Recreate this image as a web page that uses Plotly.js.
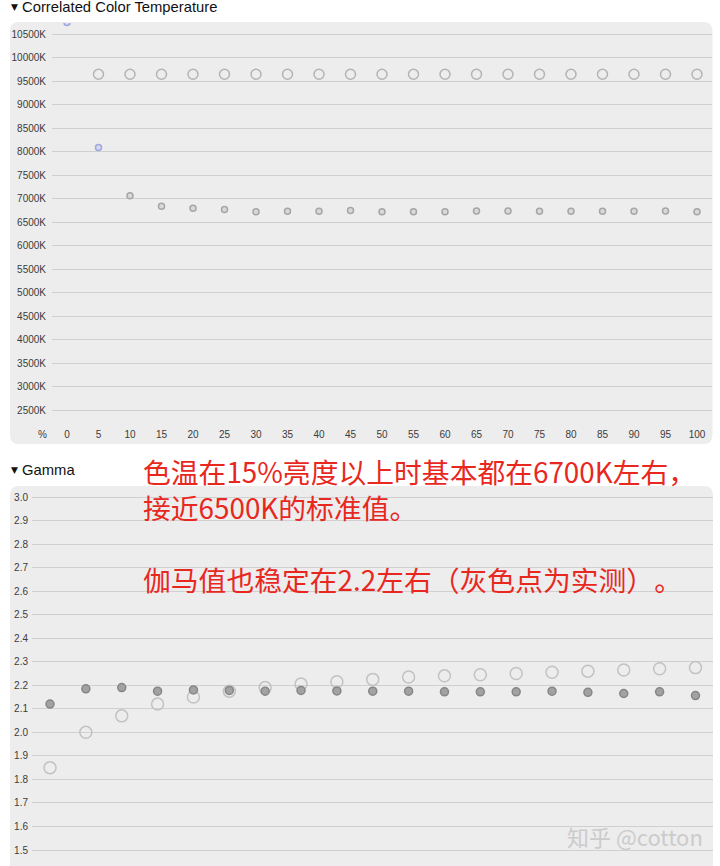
<!DOCTYPE html>
<html>
<head>
<meta charset="utf-8">
<script src="https://cdn.plot.ly/plotly-3.0.1.min.js"></script>
<style>
html,body{margin:0;padding:0;background:#fff;}
#chart{width:720px;height:866px;}
svg text{text-spacing-trim: space-all;}
</style>
</head>
<body>
<div id="chart"></div>
<script>
// ---- data ----
var cctLevels = [0,5,10,15,20,25,30,35,40,45,50,55,60,65,70,75,80,85,90,95,100];
var cctMeasured = [10750,8090,7060,6840,6795,6770,6720,6730,6730,6750,6720,6720,6720,6735,6735,6730,6730,6730,6730,6735,6720];
var cctTargetLevels = [5,10,15,20,25,30,35,40,45,50,55,60,65,70,75,80,85,90,95,100];
var cctTarget = [9650,9650,9650,9650,9650,9650,9650,9650,9650,9650,9650,9650,9650,9650,9650,9650,9650,9650,9650,9650];
var cctTickVals = [2500,3000,3500,4000,4500,5000,5500,6000,6500,7000,7500,8000,8500,9000,9500,10000,10500];
var cctTickText = ["2500K","3000K","3500K","4000K","4500K","5000K","5500K","6000K","6500K","7000K","7500K","8000K","8500K","9000K","9500K","10000K","10500K"];
var levelTicks = [0,5,10,15,20,25,30,35,40,45,50,55,60,65,70,75,80,85,90,95,100];

var gammaLevels = [10,15,20,25,30,35,40,45,50,55,60,65,70,75,80,85,90,95,100];
var gammaTarget = [1.85,2.00,2.07,2.12,2.15,2.175,2.19,2.205,2.215,2.225,2.235,2.24,2.245,2.25,2.255,2.26,2.265,2.27,2.275];
var gammaMeasured = [2.12,2.185,2.19,2.175,2.18,2.178,2.175,2.178,2.176,2.175,2.175,2.172,2.172,2.172,2.175,2.17,2.165,2.172,2.156];
var gammaTickVals = [1.5,1.6,1.7,1.8,1.9,2.0,2.1,2.2,2.3,2.4,2.5,2.6,2.7,2.8,2.9,3.0];
var gammaTickText = ["1.5","1.6","1.7","1.8","1.9","2.0","2.1","2.2","2.3","2.4","2.5","2.6","2.7","2.8","2.9","3.0"];

var noteLines = ["色温在15%亮度以上时基本都在6700K左右，", "接近6500K的标准值。", "", "伽马值也稳定在2.2左右（灰色点为实测）。"];

// ---- layout helpers (pixel -> paper) ----
var W = 720, H = 866;
function px(x){ return x / W; }
function py(y){ return 1 - y / H; }
function roundRect(x0, y0, x1, y1, r){
  var rx = r / W, ry = r / H;
  var L = px(x0), R = px(x1), T = py(y0), B = py(y1);
  return 'M' + (L+rx) + ',' + T + ' L' + (R-rx) + ',' + T +
    ' Q' + R + ',' + T + ' ' + R + ',' + (T-ry) +
    ' L' + R + ',' + (B+ry) + ' Q' + R + ',' + B + ' ' + (R-rx) + ',' + B +
    ' L' + (L+rx) + ',' + B + ' Q' + L + ',' + B + ' ' + L + ',' + (B+ry) +
    ' L' + L + ',' + (T-ry) + ' Q' + L + ',' + T + ' ' + (L+rx) + ',' + T + ' Z';
}

var cctFill = cctLevels.map(function(v, i){ return i < 2 ? '#d6daf3' : '#d9d9d9'; });
var cctLine = cctLevels.map(function(v, i){ return i < 2 ? '#9ea6de' : '#a6a6a6'; });

var traces = [
  {x: cctTargetLevels, y: cctTarget, xaxis: 'x', yaxis: 'y', type: 'scatter', mode: 'markers',
   marker: {size: 10, color: 'rgba(0,0,0,0)', line: {color: '#b4b4b4', width: 1.5}}},
  {x: cctLevels, y: cctMeasured, xaxis: 'x', yaxis: 'y', type: 'scatter', mode: 'markers',
   marker: {size: 6, color: cctFill, line: {color: cctLine, width: 1.5}}},
  {x: gammaLevels, y: gammaTarget, xaxis: 'x2', yaxis: 'y2', type: 'scatter', mode: 'markers',
   marker: {size: 12, color: 'rgba(0,0,0,0)', line: {color: '#c2c2c2', width: 1.5}}},
  {x: gammaLevels, y: gammaMeasured, xaxis: 'x2', yaxis: 'y2', type: 'scatter', mode: 'markers',
   marker: {size: 8, color: '#a2a2a2', line: {color: '#868686', width: 1.5}}}
];

var tickFont = {family: 'Liberation Sans, Arial, sans-serif', size: 10, color: '#3c3c3c'};
var noteFont = {family: 'Noto Sans CJK SC, sans-serif', size: 27.8, color: '#e8281e'};

var layout = {
  width: W, height: H,
  margin: {l: 0, r: 0, t: 0, b: 0},
  paper_bgcolor: '#ffffff',
  plot_bgcolor: 'rgba(0,0,0,0)',
  showlegend: false,
  hovermode: false,
  xaxis: {
    domain: [px(52), px(712)], anchor: 'y',
    range: [(52-67)/6.3, (712-67)/6.3],
    tickmode: 'array', tickvals: levelTicks, ticktext: levelTicks.map(String),
    showgrid: false, zeroline: false, showline: false, ticks: '',
    ticklabelstandoff: 4,
    tickfont: tickFont, fixedrange: true
  },
  yaxis: {
    domain: [py(423), py(23)], anchor: 'x',
    range: [2500 - (423-410)/23.48*500, 10500 + (34.3-23)/23.48*500],
    tickmode: 'array', tickvals: cctTickVals, ticktext: cctTickText,
    showgrid: true, gridcolor: '#d0d0d0', gridwidth: 1,
    zeroline: false, showline: false, ticks: '',
    ticklabelstandoff: 5,
    tickfont: tickFont, fixedrange: true
  },
  xaxis2: {
    domain: [px(32), px(713)], anchor: 'y2',
    range: [10 + (32-50)/7.172, 10 + (713-50)/7.172],
    showticklabels: false, showgrid: false, zeroline: false, showline: false, ticks: '',
    fixedrange: true
  },
  yaxis2: {
    domain: [0, py(487)], anchor: 'x2',
    range: [1.5 - (866-850)/235.4, 3.0 + (497-487)/235.4],
    tickmode: 'array', tickvals: gammaTickVals, ticktext: gammaTickText,
    showgrid: true, gridcolor: '#d0d0d0', gridwidth: 1,
    zeroline: false, showline: false, ticks: '',
    ticklabelstandoff: 3,
    tickfont: tickFont, fixedrange: true
  },
  shapes: [
    {type: 'path', xref: 'paper', yref: 'paper', path: roundRect(10, 22, 712.5, 444, 9),
     fillcolor: '#ededed', line: {width: 0}, layer: 'below'},
    {type: 'path', xref: 'paper', yref: 'paper', path: roundRect(10, 486, 713, 900, 9),
     fillcolor: '#ededed', line: {width: 0}, layer: 'below'}
  ],
  annotations: [
    {xref: 'paper', yref: 'paper', x: px(9), y: py(7), xanchor: 'left', yanchor: 'middle',
     text: '▼', showarrow: false, font: {family: 'DejaVu Sans, sans-serif', size: 9, color: '#111'}},
    {xref: 'paper', yref: 'paper', x: px(20), y: py(7), xanchor: 'left', yanchor: 'middle',
     text: 'Correlated Color Temperature', showarrow: false,
     font: {family: 'Liberation Sans, Arial, sans-serif', size: 14.8, color: '#111'}},
    {xref: 'paper', yref: 'paper', x: px(9), y: py(469.5), xanchor: 'left', yanchor: 'middle',
     text: '▼', showarrow: false, font: {family: 'DejaVu Sans, sans-serif', size: 9, color: '#111'}},
    {xref: 'paper', yref: 'paper', x: px(20), y: py(469.5), xanchor: 'left', yanchor: 'middle',
     text: 'Gamma', showarrow: false,
     font: {family: 'Liberation Sans, Arial, sans-serif', size: 14.8, color: '#111'}},
    {xref: 'paper', yref: 'paper', x: px(42), y: py(434), xanchor: 'center', yanchor: 'middle',
     text: '%', showarrow: false, font: tickFont},
    {xref: 'paper', yref: 'paper', x: px(141), y: py(524.5), xanchor: 'left', yanchor: 'middle',
     align: 'left', text: noteLines.join('<br>'), showarrow: false, font: noteFont},
    {xref: 'paper', yref: 'paper', x: px(565), y: py(836), xanchor: 'left', yanchor: 'middle',
     text: '知乎 @cotton', showarrow: false,
     font: {family: 'Noto Sans CJK SC, sans-serif', size: 22, color: '#cbcbcb'}}
  ]
};

Plotly.newPlot('chart', traces, layout, {staticPlot: true, displayModeBar: false});
</script>
</body>
</html>
